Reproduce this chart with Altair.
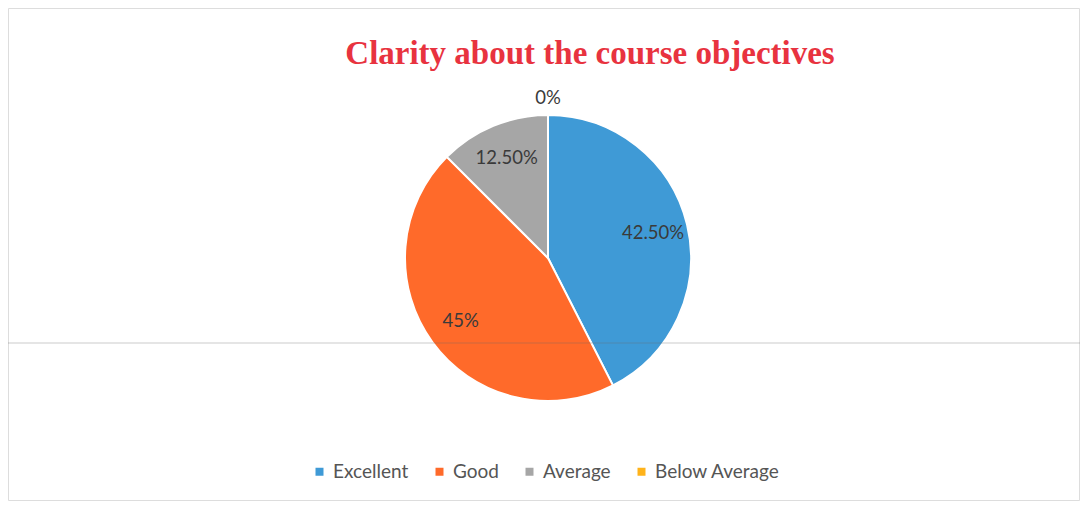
import altair as alt
import pandas as pd

# ---- data ----
categories = ["Excellent", "Good", "Average", "Below Average"]
values = [42.5, 45.0, 12.5, 0.0]
labels = ["42.50%", "45%", "12.50%", "0%"]
colors = ["#3F9AD6", "#FF6A2A", "#A6A6A6", "#FFB31A"]
title_text = ["Clarity about the course objectives"]

df = pd.DataFrame({
    "idx": list(range(len(categories))),
    "category": categories,
    "value": values,
    "label": labels,
})
title_df = pd.DataFrame({"t": title_text})
rule_df = pd.DataFrame({"k": [0]})

W, H = 1071, 492
CX, CY, R = 540, 250, 143

color = alt.Color(
    "category:N",
    scale=alt.Scale(domain=categories, range=colors),
    sort=categories,
    legend=alt.Legend(
        title=None,
        orient="none",
        legendX=302,
        legendY=454,
        direction="horizontal",
        symbolType="square",
        symbolSize=64,
        symbolStrokeWidth=0,
        labelFontSize=19,
        labelFont="Lato",
        labelColor="#555555",
        labelOffset=4,
        columnPadding=21,
    ),
)

base = alt.Chart(df)

pie = base.mark_arc(outerRadius=R, stroke="white", strokeWidth=2).encode(
    theta=alt.Theta("value:Q", stack=True),
    color=color,
    order=alt.Order("idx:Q"),
    x=alt.value(CX),
    y=alt.value(CY),
)

text = base.transform_calculate(
    r="datum.value == 0 ? 160 : 108"
).mark_text(
    font="Lato", fontSize=18.5, color="#3a3a3a", align="center", baseline="middle"
).encode(
    theta=alt.Theta("value:Q", stack=True),
    radius=alt.Radius("r:Q", scale=None),
    text="label:N",
    detail="category:N",
    order=alt.Order("idx:Q"),
    x=alt.value(CX),
    y=alt.value(CY),
)

title = alt.Chart(title_df).mark_text(
    font="Liberation Serif", fontSize=33, fontWeight="bold", color="#E8333F",
    align="center", baseline="alphabetic",
).encode(text="t:N", x=alt.value(582), y=alt.value(56))

scan_line = alt.Chart(rule_df).mark_rule(color="#6a6a6a", strokeWidth=1, opacity=0.35).encode(
    x=alt.value(-8), x2=alt.value(W + 8), y=alt.value(335)
)

chart = alt.layer(pie, text, title, scan_line).properties(
    width=W, height=H,
    autosize=alt.AutoSizeParams(type="none"),
    padding={"left": 0, "top": 0, "right": 1, "bottom": 1},
).configure_view(stroke="#d6d6d6", strokeWidth=1).configure(background="white")

chart.save("out.html", embed_options={"renderer": "svg", "actions": False})
